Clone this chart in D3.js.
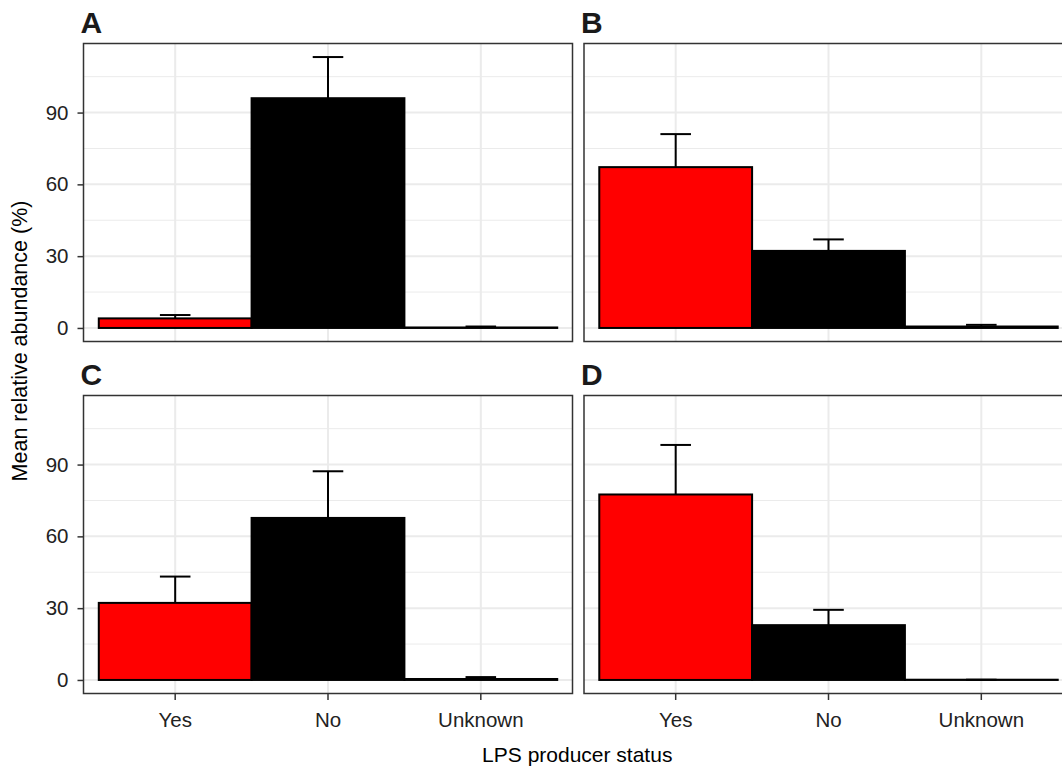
<!DOCTYPE html>
<html>
<head>
<meta charset="utf-8">
<script src="https://cdn.jsdelivr.net/npm/d3@7"></script>
<style>
  body { margin: 0; background: #fff; }
  svg { display: block; font-family: "Liberation Sans", Arial, sans-serif; }
</style>
</head>
<body>
<svg id="chart" width="1062" height="768"></svg>
<script>
// categories and panels
const categories = ["Yes", "No", "Unknown"];
const panelNames = ["A", "B", "C", "D"];
const barColors = ["#ff0000", "#000000", "#000000"];

// mean relative abundance per panel (Yes, No, Unknown)
const meansA = [4.0, 96.0, 0.2];
const meansB = [67.2, 32.2, 0.6];
const meansC = [32.2, 67.7, 0.4];
const meansD = [77.5, 22.9, 0.1];

// top of error bar per panel
const upperA = [5.4, 113.2, 0.6];
const upperB = [81.0, 37.0, 1.3];
const upperC = [43.2, 87.2, 1.2];
const upperD = [98.2, 29.3, 0.1];

const yTicks = [0, 30, 60, 90];
const yMinor = [15, 45, 75, 105];

const allMeans = [meansA, meansB, meansC, meansD];
const allUpper = [upperA, upperB, upperC, upperD];

const svg = d3.select("#chart");

// layout
const panelW = 489, panelH = 298;
const marginLeft = 83.5, marginTop = 43.5;
const hGap = 11.5, vGap = 54;

// ggplot-like expansion of y
const yMax = d3.max(allUpper.flat());
const pad = yMax * 0.05;
const y = d3.scaleLinear().domain([-pad, yMax + pad]).range([panelH, 0]);

const x = d3.scaleBand()
  .domain(categories)
  .range([0, panelW])
  .paddingInner(0)
  .paddingOuter(0.1);

panelNames.forEach(function (name, i) {
  const col = i % 2, row = Math.floor(i / 2);
  const px = marginLeft + col * (panelW + hGap);
  const py = marginTop + row * (panelH + vGap);
  const g = svg.append("g").attr("transform", `translate(${px},${py})`);

  const rows = categories.map((c, j) => ({
    cat: c, mean: allMeans[i][j], upper: allUpper[i][j], color: barColors[j]
  }));

  // background gridlines
  g.selectAll(".minor").data(yMinor).join("line")
    .attr("x1", 0).attr("x2", panelW)
    .attr("y1", d => y(d)).attr("y2", d => y(d))
    .attr("stroke", "#ebebeb").attr("stroke-width", 1);
  g.selectAll(".major").data(yTicks).join("line")
    .attr("x1", 0).attr("x2", panelW)
    .attr("y1", d => y(d)).attr("y2", d => y(d))
    .attr("stroke", "#ebebeb").attr("stroke-width", 2);
  g.selectAll(".vmajor").data(categories).join("line")
    .attr("x1", d => x(d) + x.bandwidth() / 2).attr("x2", d => x(d) + x.bandwidth() / 2)
    .attr("y1", 0).attr("y2", panelH)
    .attr("stroke", "#ebebeb").attr("stroke-width", 2);

  // bars
  g.selectAll(".bar").data(rows).join("rect")
    .attr("x", d => x(d.cat))
    .attr("width", x.bandwidth())
    .attr("y", d => y(d.mean))
    .attr("height", d => y(0) - y(d.mean))
    .attr("fill", d => d.color)
    .attr("stroke", "#000")
    .attr("stroke-width", 2);

  // error bars (mean to upper)
  const capW = x.bandwidth() * 0.2;
  const eb = g.selectAll(".err").data(rows).join("g")
    .attr("transform", d => `translate(${x(d.cat) + x.bandwidth() / 2},0)`);
  eb.append("line")
    .attr("y1", d => y(d.mean)).attr("y2", d => y(d.upper))
    .attr("stroke", "#000").attr("stroke-width", 2);
  eb.append("line")
    .attr("x1", -capW / 2).attr("x2", capW / 2)
    .attr("y1", d => y(d.upper)).attr("y2", d => y(d.upper))
    .attr("stroke", "#000").attr("stroke-width", 2);

  // panel border
  g.append("rect")
    .attr("width", panelW).attr("height", panelH)
    .attr("fill", "none").attr("stroke", "#333").attr("stroke-width", 1.5);

  // panel tag
  svg.append("text")
    .attr("x", px - 3).attr("y", py - 10.5)
    .attr("font-size", 30).attr("font-weight", "bold")
    .attr("fill", "#1a1a1a")
    .text(name);

  if (col === 0) {
    const ya = g.append("g")
      .call(d3.axisLeft(y).tickValues(yTicks).tickSize(6).tickPadding(9));
    ya.select(".domain").remove();
    ya.selectAll("line").attr("stroke", "#333").attr("stroke-width", 1.5);
    ya.selectAll("text").attr("font-size", 20.5).attr("fill", "#222")
      .attr("font-family", "Liberation Sans, Arial, sans-serif");
  }
  if (row === 1) {
    const xa = g.append("g").attr("transform", `translate(0,${panelH})`)
      .call(d3.axisBottom(x).tickSize(6.5).tickPadding(12));
    xa.select(".domain").remove();
    xa.selectAll("line").attr("stroke", "#333").attr("stroke-width", 1.5);
    xa.selectAll("text").attr("font-size", 20.5).attr("fill", "#222")
      .attr("font-family", "Liberation Sans, Arial, sans-serif");
  }
});

// axis titles
const plotRight = marginLeft + 2 * panelW + hGap;
svg.append("text")
  .attr("x", (marginLeft + plotRight) / 2 - 1).attr("y", 762)
  .attr("text-anchor", "middle").attr("font-size", 21).attr("fill", "#000")
  .text("LPS producer status");

svg.append("text")
  .attr("transform", "translate(27,341) rotate(-90)")
  .attr("text-anchor", "middle").attr("font-size", 21.5).attr("fill", "#000")
  .text("Mean relative abundance (%)");
</script>
</body>
</html>
